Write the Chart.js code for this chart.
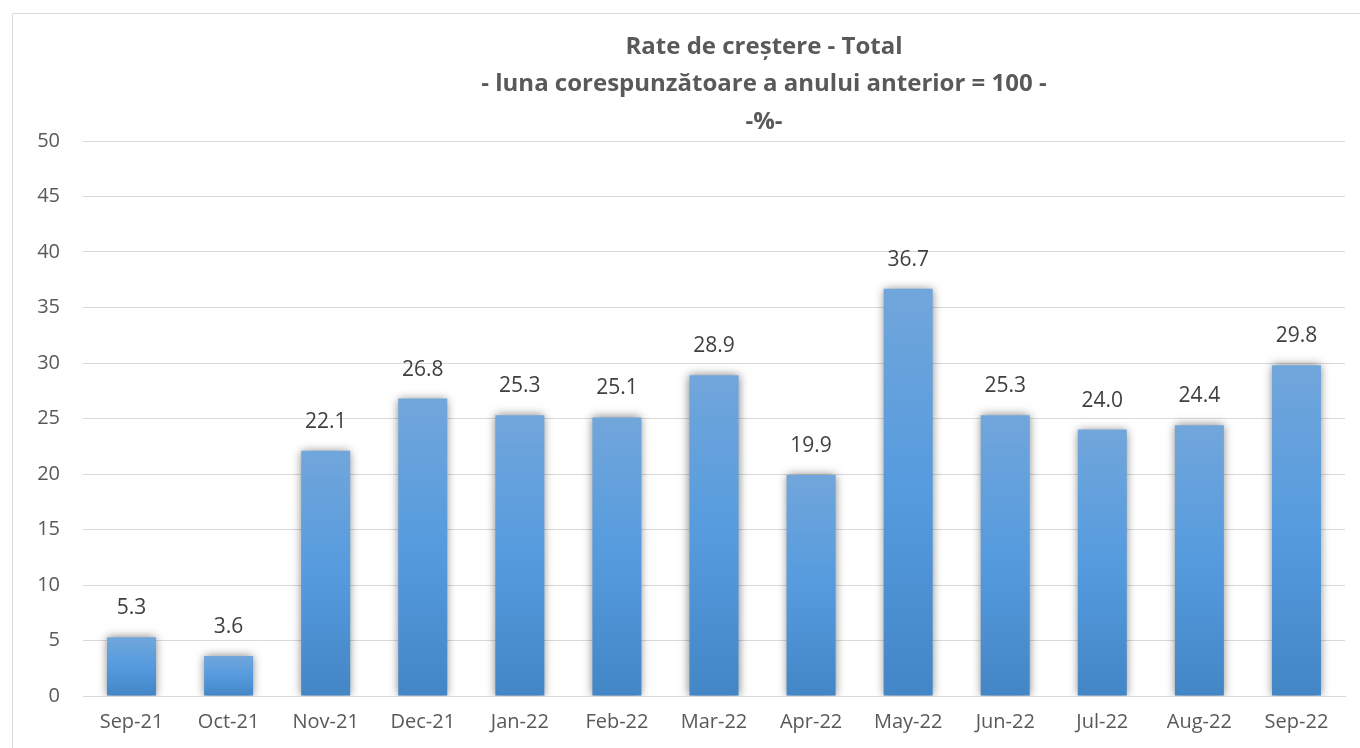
<!DOCTYPE html>
<html>
<head>
<meta charset="utf-8">
<script src="https://cdn.jsdelivr.net/npm/chart.js@4/dist/chart.umd.min.js"></script>
<style>
  body { margin: 0; background: #fff; }
  #wrap { width: 1360px; height: 748px; }
</style>
</head>
<body>
<div id="wrap"><canvas id="myChart" width="1360" height="748"></canvas></div>
<script>
// data
const months = ["Sep-21", "Oct-21", "Nov-21", "Dec-21", "Jan-22", "Feb-22", "Mar-22",
  "Apr-22", "May-22", "Jun-22", "Jul-22", "Aug-22", "Sep-22"];
const growthRates = [5.3, 3.6, 22.1, 26.8, 25.3, 25.1, 28.9, 19.9, 36.7, 25.3, 24.0, 24.4, 29.8];
const titleLines = ["Rate de creștere - Total", "- luna corespunzătoare a anului anterior = 100 -", "-%-"];

const FONT = "'Open Sans', 'Liberation Sans', sans-serif";

// per-bar vertical gradient
function barGradient(context) {
  const chart = context.chart;
  if (!chart.chartArea || !context.parsed) return "#5b9bd5";
  const y = chart.scales.y;
  const top = y.getPixelForValue(context.parsed.y);
  const bottom = y.getPixelForValue(0);
  const g = chart.ctx.createLinearGradient(0, top, 0, bottom);
  g.addColorStop(0, "#71a6db");
  g.addColorStop(0.5, "#559bde");
  g.addColorStop(1, "#4386c6");
  return g;
}

// outer frame + title
const frameAndTitle = {
  id: "frameAndTitle",
  beforeDraw(chart) {
    const ctx = chart.ctx;
    ctx.save();
    ctx.strokeStyle = "#d9d9d9";
    ctx.lineWidth = 1;
    ctx.beginPath();
    ctx.moveTo(12.5, 748);
    ctx.lineTo(12.5, 13.5);
    ctx.lineTo(1360, 13.5);
    ctx.stroke();

    ctx.font = "bold 24px " + FONT;
    ctx.fillStyle = "#595959";
    ctx.textAlign = "center";
    ctx.textBaseline = "middle";
    titleLines.forEach((t, i) => {
      ctx.fillText(t, 764, 47 + i * 37.5);
    });
    ctx.restore();
  },
};

// shadow around bars
const barShadow = {
  id: "barShadow",
  beforeDatasetDraw(chart) {
    const ctx = chart.ctx;
    ctx.save();
    ctx.shadowColor = "rgba(0,0,0,0.5)";
    ctx.shadowBlur = 9;
    ctx.shadowOffsetX = 0;
    ctx.shadowOffsetY = 0;
  },
  afterDatasetDraw(chart) {
    chart.ctx.restore();
  },
};

// value labels above bars
const valueLabels = {
  id: "valueLabels",
  afterDatasetsDraw(chart) {
    const ctx = chart.ctx;
    const meta = chart.getDatasetMeta(0);
    ctx.save();
    ctx.font = "21px " + FONT;
    ctx.fillStyle = "#404040";
    ctx.textAlign = "center";
    ctx.textBaseline = "middle";
    meta.data.forEach((bar, i) => {
      ctx.fillText(growthRates[i].toFixed(1), bar.x, bar.y - 29);
    });
    ctx.restore();
  },
};

const config = {
  type: "bar",
  data: {
    labels: months,
    datasets: [
      {
        data: growthRates,
        backgroundColor: barGradient,
        borderWidth: 0,
        barPercentage: 0.505,
        categoryPercentage: 1,
      },
    ],
  },
  options: {
    responsive: false,
    animation: false,
    layout: {
      padding: { top: 141, right: 15, bottom: 0, left: 0 },
    },
    plugins: {
      legend: { display: false },
      title: { display: false },
      tooltip: { enabled: false },
    },
    scales: {
      x: {
        grid: { display: false, drawTicks: false },
        border: { color: "#d9d9d9", width: 1 },
        ticks: {
          color: "#595959",
          font: { family: FONT, size: 20 },
          padding: 14,
          maxRotation: 0,
        },
      },
      y: {
        min: 0,
        max: 50,
        afterFit(scale) {
          scale.width = 83;
        },
        grid: { color: "#d9d9d9", lineWidth: 1, drawTicks: false },
        border: { display: false },
        ticks: {
          stepSize: 5,
          color: "#595959",
          font: { family: FONT, size: 20 },
          padding: 23,
        },
      },
    },
  },
  plugins: [frameAndTitle, barShadow, valueLabels],
};

new Chart(document.getElementById("myChart"), config);
</script>
</body>
</html>
